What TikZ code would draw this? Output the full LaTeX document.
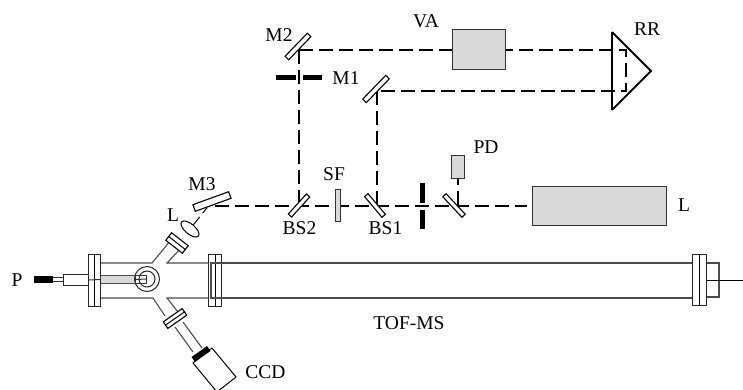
\documentclass[tikz,border=0pt]{standalone}
\usepackage{fontspec}
\setmainfont{Liberation Serif}
\usetikzlibrary{shapes.geometric,backgrounds}
\definecolor{boxgray}{gray}{0.85}
\tikzset{
  x=1pt,y=-1pt,
  lbl/.style={inner sep=0pt,font=\fontsize{19.5}{20}\selectfont},
  plate/.style={draw=black,fill=white,line width=1.1pt,inner sep=0pt,minimum width=#1},
  graybox/.style={draw=black!80,fill=boxgray,line width=1pt,inner sep=0pt,anchor=north west},
  block/.style={fill=black,inner sep=0pt,anchor=north west},
  beam/.style={draw=black,line width=2pt,dash pattern=on 14pt off 6pt},
  tube/.style={draw=black!70,line width=1.1pt},
  thinbox/.style={draw=black!85,fill=white,line width=1pt,inner sep=0pt,anchor=north west},
}
\begin{document}
\begin{tikzpicture}
\useasboundingbox (0,0) rectangle (743,389);
% optics
\node[plate=32pt,minimum height=5pt,rotate=46] (M2) at (298,46.5) {};
\node[plate=33pt,minimum height=5pt,rotate=46] (M1) at (376,89) {};
\node[plate=38pt,minimum height=7pt,rotate=20] (M3) at (212,201.5) {};
\node[plate=27pt,minimum height=4.5pt,rotate=48] (BS2) at (299,205.5) {};
\node[plate=27pt,minimum height=4.5pt,rotate=-50] (BS1) at (375,205.5) {};
\node[plate=28pt,minimum height=4.5pt,rotate=-47] (PM) at (454,205.5) {};
\node[graybox,minimum width=5pt,minimum height=32pt] (SF) at (335,189) {};
\node[graybox,minimum width=53pt,minimum height=40pt] (VA) at (452,29) {};
\node[graybox,minimum width=134pt,minimum height=39pt] (LS) at (532,186) {};
\node[graybox,minimum width=13pt,minimum height=23pt] (PD) at (451,155) {};
\node[block,minimum width=20pt,minimum height=4.5pt] (A1) at (276,75) {};
\node[block,minimum width=19pt,minimum height=4.5pt] (A2) at (303,75) {};
\node[block,minimum width=5pt,minimum height=20pt] (A3) at (420,183) {};
\node[block,minimum width=5pt,minimum height=19pt] (A4) at (420,210) {};
% retro-reflector
\coordinate (RRa) at (612,32);
\coordinate (RRb) at (651,71);
\coordinate (RRc) at (612,110);
\coordinate (RRt) at (626,49.5);
\coordinate (RRu) at (626,91);
\draw[line width=1.8pt,line join=miter] (RRa) -- (RRb) -- (RRc);
\draw[line width=2.6pt] (RRa) -- (RRc);
% beam turning points on the mirrors
\coordinate (bM2) at (299,49.5);
\coordinate (bM1) at (377,91);
\coordinate (bBS2) at (299,205.5);
\coordinate (bBS1) at (377,205.5);
\coordinate (bM3) at (215,205.5);
\coordinate (bEnd) at (527,205.5);
\begin{scope}[on background layer]
\draw[beam] (bM2) -- (RRt) -- (RRu) -- (bM1);
\draw[beam] (bM2) -- (bBS2);
\draw[beam] (bM1) -- (bBS1);
\draw[beam] (bM3) -- (bEnd);
\draw[line width=1.3pt,dash pattern=on 6pt off 6pt on 15pt off 0pt] (PD.south) -- (PD.south |- PM.center);
\end{scope}
% chamber
\coordinate (T1) at (100,263);
\coordinate (T2) at (152,263);
\coordinate (T3) at (171,240);
\coordinate (T4) at (167,263);
\coordinate (T5) at (181,248);
\coordinate (T6) at (692,263);
\coordinate (B1) at (100,298);
\coordinate (B2) at (153,298);
\coordinate (B3) at (165,316);
\coordinate (B4) at (167,298);
\coordinate (B5) at (178,312);
\coordinate (B6) at (692,298);
\coordinate (T7) at (211,263);
\coordinate (B7) at (211,298);
\draw[tube] (T1) -- (T2) -- (T3);
\draw[tube] (T5) -- (T4) -- (T7);
\draw[tube] (B1) -- (B2) -- (B3);
\draw[tube] (B5) -- (B4) -- (B7);
% probe
\node[block,minimum width=19pt,minimum height=7pt] (Pb) at (34,275.5) {};
\node[thinbox,minimum width=25pt,minimum height=11pt] (Pc) at (63,274) {};
\node[thinbox,minimum width=35pt,minimum height=8pt,draw=black!70,fill=black!15] (Pd) at (100,275) {};
\draw[line width=1pt,black!80] (Pb.east) ++(0,-1.8) -- ++(10,0) ++(0,3.6) -- ++(-10,0);
% flanges
\node[thinbox,minimum width=12pt,minimum height=52pt] (F1) at (88,254) {};
\draw[line width=1pt] (F1.north) -- (F1.south);
\draw[line width=1pt,black!80] (Pc.east) -- (100,279.5);
\node[thinbox,minimum width=13pt,minimum height=52pt] (F2) at (208,254) {};
\draw[line width=1pt] (F2.north) -- (F2.south);
\draw[tube] (T6) -- (T7) -- (B7) -- (B6);
\node[thinbox,minimum width=14pt,minimum height=51pt] (F3) at (692,254) {};
\draw[line width=1pt] (F3.north) -- (F3.south);
\coordinate (E1) at (719,263);
\coordinate (E2) at (719,297);
\coordinate (E3) at (743,280);
\draw[tube] (F3.east |- E1) -- (E1) -- (E2) -- (F3.east |- E2);
\draw[line width=1pt] (F3.east) -- (E3);
% centre of the chamber
\node[circle,draw=black!85,fill=white,line width=1pt,minimum size=25pt,inner sep=0pt] (C1) at (147,279) {};
\node[circle,draw=black!85,line width=1pt,minimum size=16pt,inner sep=0pt] (C2) at (147,279) {};
\draw[line width=1pt,black!80] (135,275) rectangle (146,283);
\draw[line width=1pt,black!80] (Pd.east) -- (146,279);
% upper port
\node[plate=21pt,minimum height=9.5pt,rotate=-38] (F4) at (177,243) {};
\draw[line width=1pt] (F4.west) -- (F4.east);
\node[ellipse,draw=black,fill=white,line width=1pt,inner sep=0pt,minimum width=22pt,minimum height=10pt,rotate=-40] (LN) at (190,229) {};
\draw[line width=1pt,dash pattern=on 10pt off 5pt on 7pt off 0pt] (LN) -- (M3);
% lower port
\node[plate=23pt,minimum height=8pt,rotate=35] (F5) at (175,318.5) {};
\draw[line width=1pt] (F5.west) -- (F5.east);
\node[fill=black,minimum width=19pt,minimum height=6pt,inner sep=0pt,rotate=35] (CB) at (201,354) {};
\draw[tube] (175,327) -- (193,352);
\draw[tube] (183,322) -- (202,348);
\coordinate (K1) at (193,363);
\coordinate (K2) at (212,348);
\coordinate (K3) at (236,377);
\coordinate (K4) at (217,392);
\draw[line width=1pt] (K1) -- (K2) -- (K3) -- (K4) -- cycle;
% labels
\node[lbl] (tP) at (17,280) {P};
\node[lbl] (tM2) at (279,35) {M2};
\node[lbl] (tVA) at (426,21) {VA};
\node[lbl] (tRR) at (647,29) {RR};
\node[lbl] (tM1) at (346,78) {M1};
\node[lbl] (tPD) at (486,147) {PD};
\node[lbl] (tSF) at (334,174) {SF};
\node[lbl] (tM3) at (202,184) {M3};
\node[lbl] (tBS2) at (299.5,228) {BS2};
\node[lbl] (tBS1) at (385.5,228) {BS1};
\node[lbl] (tL1) at (684,205) {L};
\node[lbl] (tL2) at (173,215) {L};
\node[lbl] (tTOF) at (409,323) {TOF-MS};
\node[lbl] (tCCD) at (265.5,372) {CCD};
\end{tikzpicture}
\end{document}
